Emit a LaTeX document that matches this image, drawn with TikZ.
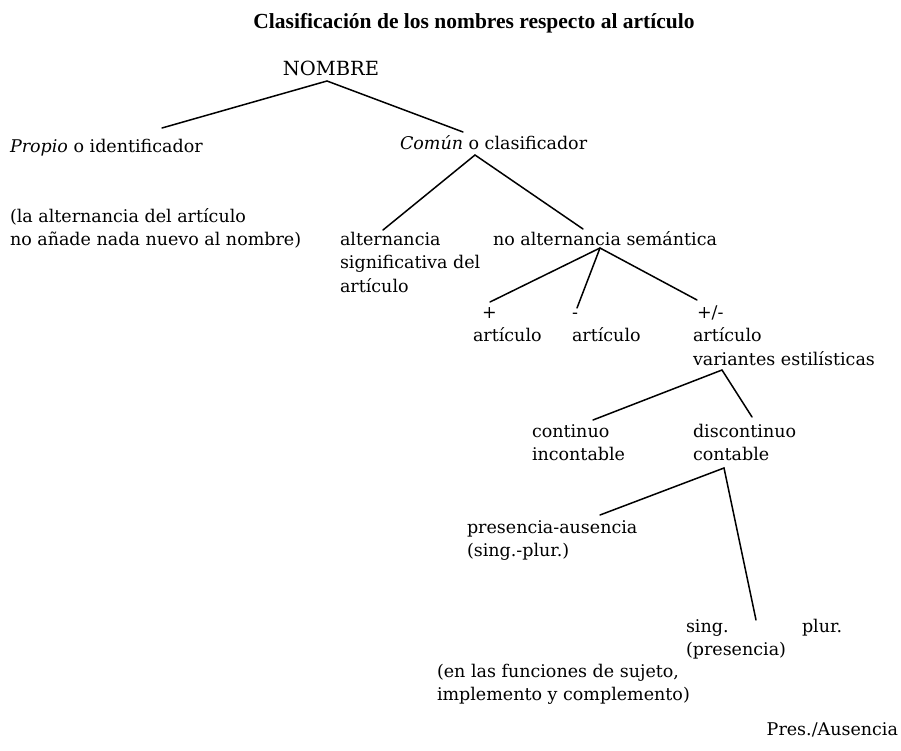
\documentclass[tikz,border=0pt]{standalone}
\usepackage{fontspec}
\setmainfont{DejaVu Serif}
\newfontfamily\titlefont{Liberation Serif}
\begin{document}
\begin{tikzpicture}[x=1pt,y=-1pt,
  every node/.style={inner sep=0pt,outer sep=0pt},
  txt/.style={anchor=north west,yshift=16.45pt,align=left,font=\fontsize{17.5}{23.5}\selectfont},
  ttl/.style={anchor=base,font=\titlefont\bfseries\fontsize{21.5}{26}\selectfont},
  branch/.style={line width=1.5pt,line cap=round}]
\fill[white] (0,0) rectangle (901,751);
\useasboundingbox (0,0) rectangle (901,751);

\node[ttl] (title) at (474,29) {Clasificación de los nombres respecto al artículo};
\node[anchor=base,font=\fontsize{19.5}{24}\selectfont] (nombre) at (331,76) {NOMBRE};
\node[txt] (propio) at (10,153) {\strut\textit{Propio} o identificador};
\node[txt] (comun) at (400,150) {\strut\textit{Común} o clasificador};
\node[txt] (nota1) at (10,222) {\strut(la alternancia del artículo\\\strut no añade nada nuevo al nombre)};
\node[txt] (altsig) at (340,245) {\strut alternancia\\\strut significativa del\\\strut artículo};
\node[txt] (noalt) at (493,245) {\strut no alternancia semántica};
\node[txt] (mas) at (473,318) {\strut\hspace*{9pt}+\\\strut artículo};
\node[txt] (menos) at (572,318) {\strut -\\\strut artículo};
\node[txt] (masmenos) at (693,318) {\strut\hspace*{4pt}+/-\\\strut artículo\\\strut variantes estilísticas};
\node[txt] (continuo) at (532,437) {\strut continuo\\\strut incontable};
\node[txt] (discont) at (693,437) {\strut discontinuo\\\strut contable};
\node[txt] (presaus) at (467,533) {\strut presencia-ausencia\\\strut (sing.-plur.)};
\node[txt] (sing) at (686,632) {\strut sing.\\\strut (presencia)};
\node[txt] (plur) at (802,632) {\strut plur.};
\node[txt] (funciones) at (437,677) {\strut(en las funciones de sujeto,\\\strut implemento y complemento)};
\node[anchor=base east,font=\fontsize{17.5}{23.5}\selectfont] (presaus2) at (898,735) {Pres./Ausencia};

% connector points
\coordinate (apNombre) at (327,81);
\coordinate (toPropio) at (162,128);
\coordinate (toComun) at (463,132);
\coordinate (apComun) at (475,155);
\coordinate (toAlt) at (383,230);
\coordinate (toNoAlt) at (583,229);
\coordinate (apNoAlt) at (600,248);
\coordinate (toMas) at (490,302);
\coordinate (toMenos) at (577,308);
\coordinate (toMasMenos) at (697,300);
\coordinate (apVar) at (722,370);
\coordinate (toCont) at (593,420);
\coordinate (toDisc) at (752,417);
\coordinate (apContable) at (724,468);
\coordinate (toPresAus) at (600,515);
\coordinate (toSingPlur) at (756,620);

\draw[branch] (toPropio) -- (apNombre) -- (toComun);
\draw[branch] (toAlt) -- (apComun) -- (toNoAlt);
\draw[branch] (toMas) -- (apNoAlt) -- (toMasMenos);
\draw[branch] (apNoAlt) -- (toMenos);
\draw[branch] (toCont) -- (apVar) -- (toDisc);
\draw[branch] (toPresAus) -- (apContable) -- (toSingPlur);
\end{tikzpicture}
\end{document}
